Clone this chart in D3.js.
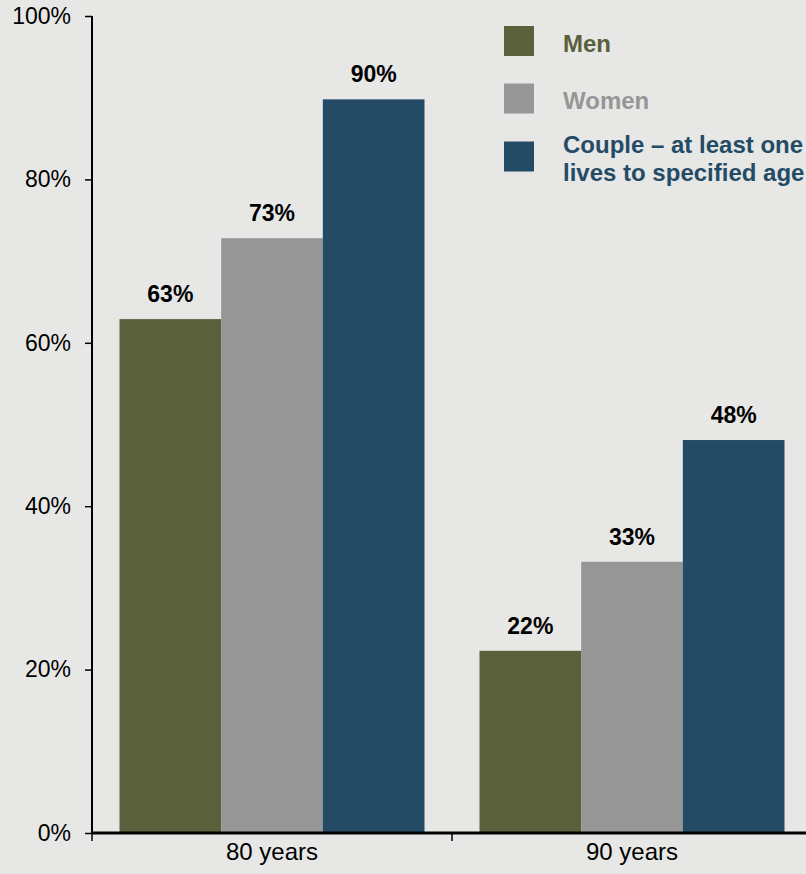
<!DOCTYPE html>
<html>
<head>
<meta charset="utf-8">
<script src="https://cdn.jsdelivr.net/npm/d3@7"></script>
<style>
  html, body { margin: 0; padding: 0; background: #e7e7e5; }
  svg { display: block; font-family: "Liberation Sans", Arial, sans-serif; }
</style>
</head>
<body>
<svg id="chart" width="806" height="874"></svg>
<script>
const categories = ["80 years", "90 years"];
const seriesNames = ["Men", "Women", "Couple – at least one lives to specified age"];
const menValues = [62.9, 22.3];
const womenValues = [72.8, 33.2];
const coupleValues = [89.8, 48.1];
const menLabels = ["63%", "22%"];
const womenLabels = ["73%", "33%"];
const coupleLabels = ["90%", "48%"];
const yTicks = [0, 20, 40, 60, 80, 100];
const colors = ["#5a603b", "#969696", "#244b66"];

const series = [
  { name: seriesNames[0], values: menValues, labels: menLabels, color: colors[0] },
  { name: seriesNames[1], values: womenValues, labels: womenLabels, color: colors[1] },
  { name: seriesNames[2], values: coupleValues, labels: coupleLabels, color: colors[2] }
];

const svg = d3.select("#chart");
const W = 806, H = 874;
svg.append("rect").attr("width", W).attr("height", H).attr("fill", "#e7e7e5");

const x0 = d3.scaleBand().domain(categories).range([92, 812])
  .paddingInner(0.1528).paddingOuter(0.0764);
const x1 = d3.scaleBand().domain(d3.range(series.length)).range([0, x0.bandwidth()]);
const y = d3.scaleLinear().domain([0, 100]).range([833, 16]);

// bars
const groups = svg.append("g").selectAll("g").data(categories).join("g")
  .attr("transform", d => `translate(${x0(d)},0)`);

groups.each(function(cat, ci) {
  const g = d3.select(this);
  series.forEach((s, si) => {
    g.append("rect")
      .attr("x", x1(si))
      .attr("y", y(s.values[ci]))
      .attr("width", x1.bandwidth())
      .attr("height", y(0) - y(s.values[ci]))
      .attr("fill", s.color);
    g.append("text")
      .attr("x", x1(si) + x1.bandwidth() / 2)
      .attr("y", y(s.values[ci]) - 17)
      .attr("text-anchor", "middle")
      .attr("font-size", "23px")
      .attr("font-weight", "bold")
      .attr("fill", "#000")
      .text(s.labels[ci]);
  });
});

// y axis
const yAxis = d3.axisLeft(y).tickValues(yTicks).tickFormat(d => d + "%").tickSize(7).tickPadding(14);
const gy = svg.append("g").attr("transform", "translate(92,0)").call(yAxis)
  .attr("font-family", "'Liberation Sans', Arial, sans-serif").attr("font-size", 23);
gy.select(".domain").attr("stroke", "#000").attr("stroke-width", 2).attr("d", "M0,16V833");
gy.selectAll(".tick line").attr("stroke", "#000").attr("stroke-width", 1.5);
gy.selectAll(".tick text").style("font-size", "23px").attr("fill", "#000");

// x axis
const gx = svg.append("g").attr("transform", "translate(0,833)");
gx.append("line").attr("x1", 92).attr("x2", W).attr("y1", 0).attr("y2", 0)
  .attr("stroke", "#000").attr("stroke-width", 3);
const boundaries = [x0(categories[0]) - x0.step() * x0.paddingOuter(), x0(categories[1]) - x0.step() * x0.paddingInner() / 2];
gx.selectAll(".xt").data(boundaries).join("line")
  .attr("x1", d => d).attr("x2", d => d).attr("y1", 0).attr("y2", 8)
  .attr("stroke", "#000").attr("stroke-width", 1.5);
gx.selectAll(".xl").data(categories).join("text")
  .attr("x", d => x0(d) + x0.bandwidth() / 2)
  .attr("y", 27)
  .attr("text-anchor", "middle")
  .style("font-size", "24px")
  .attr("fill", "#000")
  .text(d => d);

// legend
const legendY = [41, 98.5, 156.5];
const legendLines = [["Men"], ["Women"], ["Couple – at least one", "lives to specified age"]];
const lg = svg.append("g");
series.forEach((s, i) => {
  lg.append("rect").attr("x", 504).attr("y", legendY[i] - 15).attr("width", 30).attr("height", 30)
    .attr("fill", s.color);
  const lines = legendLines[i];
  const t = lg.append("text")
    .attr("x", 563)
    .attr("font-size", "24px")
    .attr("font-weight", "bold")
    .attr("fill", s.color);
  lines.forEach((ln, li) => {
    const base = lines.length === 1 ? legendY[i] + 10.5 : legendY[i] - 4 + li * 28.5;
    t.append("tspan").attr("x", 563).attr("y", base).text(ln);
  });
});
</script>
</body>
</html>
